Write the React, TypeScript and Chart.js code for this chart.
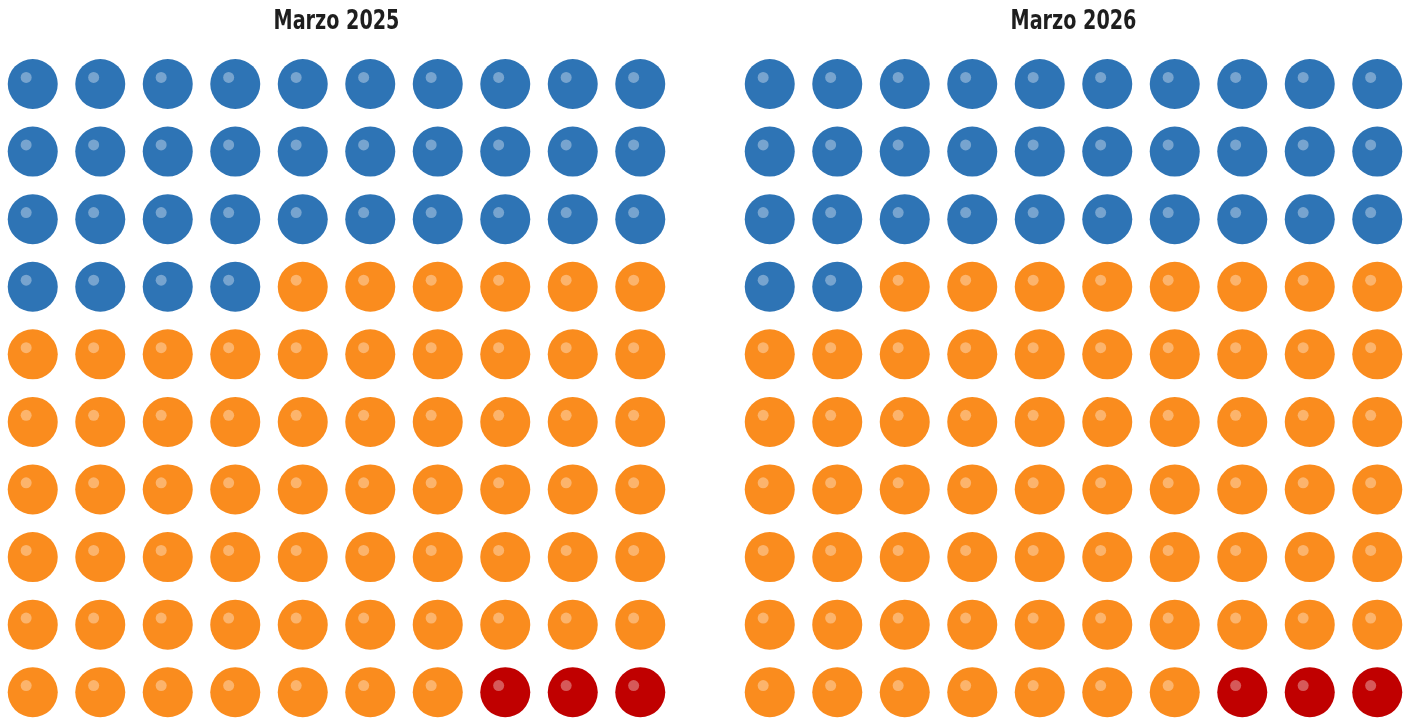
import React, { useEffect, useRef } from "react";
import { Chart, registerables } from "chart.js";

Chart.register(...registerables);

// ---- Data ----
const PERIODS = ["Marzo 2025", "Marzo 2026"];
const GROUPS = ["Grupo 1", "Grupo 2", "Grupo 3"];
const BLUE_COUNTS = [34, 32];
const ORANGE_COUNTS = [63, 65];
const RED_COUNTS = [3, 3];
const GROUP_COLORS = ["#2E74B5", "#FA8C1E", "#C00000"];
const COLS = 10;
const ROWS = 10;

const highlightPlugin = {
  id: "dotHighlight",
  afterDatasetsDraw(chart: any) {
    const ctx = chart.ctx;
    ctx.save();
    ctx.fillStyle = "rgba(255,255,255,0.35)";
    chart.data.datasets.forEach((_: any, i: number) => {
      const meta = chart.getDatasetMeta(i);
      meta.data.forEach((pt: any) => {
        ctx.beginPath();
        ctx.arc(pt.x - 6.6, pt.y - 6.6, 5.5, 0, Math.PI * 2);
        ctx.fill();
      });
    });
    ctx.restore();
  },
};

const condensedTitlePlugin = {
  id: "condensedTitle",
  afterDraw(chart: any, _args: any, opts: any) {
    const ctx = chart.ctx;
    ctx.save();
    ctx.font = "bold 27px 'DejaVu Sans Condensed', 'DejaVu Sans', sans-serif";
    ctx.fillStyle = "#1e1e1e";
    ctx.textAlign = "center";
    ctx.textBaseline = "middle";
    ctx.translate(chart.width / 2, 22);
    ctx.scale(0.79, 1);
    ctx.fillText(opts.text, 0, 0);
    ctx.restore();
  },
};

function Waffle({ idx, left }: { idx: number; left: number }) {
  const ref = useRef<HTMLCanvasElement | null>(null);
  useEffect(() => {
    if (!ref.current) return;
    const counts = [BLUE_COUNTS[idx], ORANGE_COUNTS[idx], RED_COUNTS[idx]];
    let k = 0;
    const datasets = counts.map((n, g) => {
      const data: { x: number; y: number }[] = [];
      for (let j = 0; j < n; j++, k++) {
        data.push({ x: k % COLS, y: Math.floor(k / COLS) });
      }
      return {
        label: GROUPS[g],
        data,
        backgroundColor: GROUP_COLORS[g],
        pointBackgroundColor: GROUP_COLORS[g],
        pointRadius: 25,
        pointHoverRadius: 25,
        pointBorderWidth: 0,
        borderWidth: 0,
        clip: false as any,
      };
    });
    const chart = new Chart(ref.current, {
      type: "scatter",
      data: { datasets },
      options: {
        animation: false,
        responsive: false,
        events: [],
        layout: { autoPadding: false, padding: { top: 50.2, left: 0, right: 0, bottom: 0 } },
        plugins: {
          legend: { display: false },
          tooltip: { enabled: false },
          title: { display: false },
          condensedTitle: { text: PERIODS[idx] },
        } as any,
        scales: {
          x: { display: false, min: -0.5, max: COLS - 0.5 },
          y: { display: false, reverse: true, min: -0.5, max: ROWS - 0.5 },
        },
      },
      plugins: [highlightPlugin, condensedTitlePlugin],
    });
    return () => chart.destroy();
  }, [idx]);
  return (
    <canvas
      ref={ref}
      width={675}
      height={726}
      style={{ position: "absolute", left, top: 0, width: 675, height: 726 }}
    />
  );
}

export default function App() {
  return (
    <div
      style={{
        position: "fixed",
        left: 0,
        top: 0,
        width: 1413,
        height: 720,
        overflow: "hidden",
        background: "#ffffff",
      }}
    >
      <Waffle idx={0} left={-1} />
      <Waffle idx={1} left={736} />
    </div>
  );
}
